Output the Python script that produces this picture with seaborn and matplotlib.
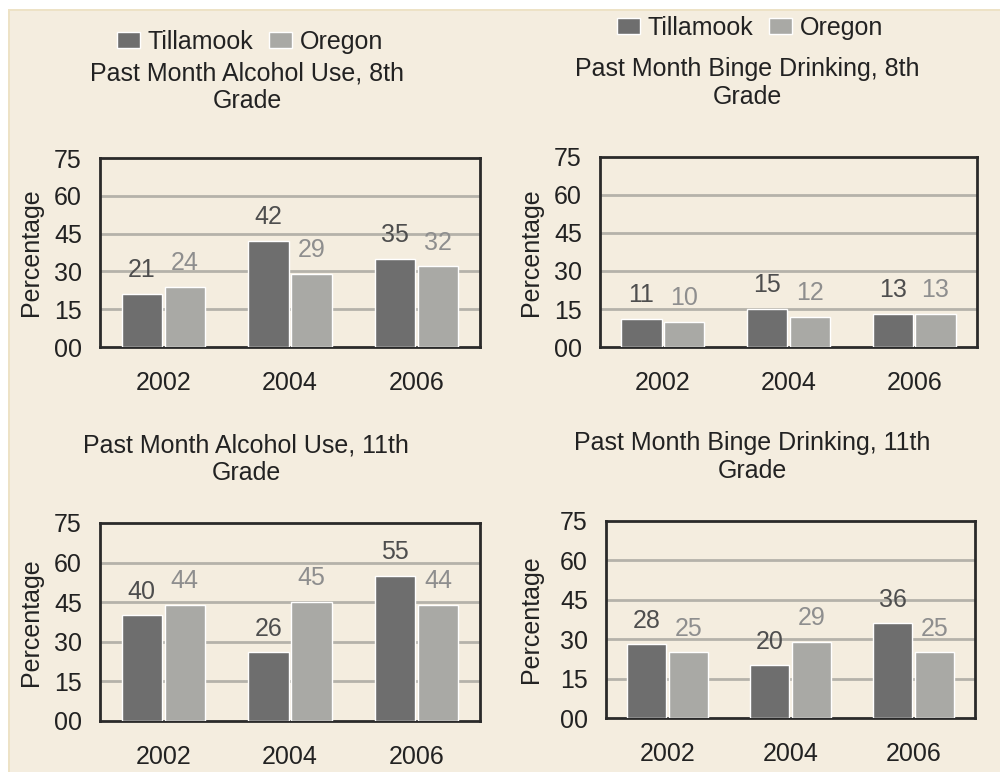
import matplotlib
matplotlib.use("Agg")
import matplotlib.pyplot as plt
from matplotlib.patches import Rectangle
import seaborn as sns
import pandas as pd

years = ["2002", "2004", "2006"]
regions = ["Tillamook", "Oregon"]
ytick_labels = ["00", "15", "30", "45", "60", "75"]

titles = [
    "Past Month Alcohol Use, 8th\nGrade",
    "Past Month Binge Drinking, 8th\nGrade",
    "Past Month Alcohol Use, 11th\nGrade",
    "Past Month Binge Drinking, 11th\nGrade",
]
tillamook_alc8 = [21, 42, 35]
oregon_alc8 = [24, 29, 32]
tillamook_binge8 = [11, 15, 13]
oregon_binge8 = [10, 12, 13]
tillamook_alc11 = [40, 26, 55]
oregon_alc11 = [44, 45, 44]
tillamook_binge11 = [28, 20, 36]
oregon_binge11 = [25, 29, 25]

panels = [
    (tillamook_alc8, oregon_alc8),
    (tillamook_binge8, oregon_binge8),
    (tillamook_alc11, oregon_alc11),
    (tillamook_binge11, oregon_binge11),
]

BG = "#F4EDDF"
DARK = "#6E6E6E"
LIGHT = "#A9A9A5"
palette = {"Tillamook": DARK, "Oregon": LIGHT}
label_colors = {"Tillamook": "#4E4E4E", "Oregon": "#8E8E8E"}

sns.set_theme(style="white")
plt.rcParams["font.family"] = ["Liberation Sans", "DejaVu Sans"]

W, H = 1000, 772
fig = plt.figure(figsize=(10, 7.72), dpi=100, facecolor=BG)

# white margin at top/left like the reference
fig.patches.append(Rectangle((0, 1 - 9 / H), 1, 9 / H, transform=fig.transFigure,
                             facecolor="white", edgecolor="none", zorder=0))
fig.patches.append(Rectangle((0, 0), 8 / W, 1, transform=fig.transFigure,
                             facecolor="white", edgecolor="none", zorder=0))
fig.patches.append(Rectangle((8 / W, 0), 2 / W, 1 - 9 / H, transform=fig.transFigure,
                             facecolor="#EDE2C6", edgecolor="none", zorder=0))
fig.patches.append(Rectangle((8 / W, 1 - 11 / H), 1, 2 / H, transform=fig.transFigure,
                             facecolor="#EDE2C6", edgecolor="none", zorder=0))

# axes boxes in pixels: left, top, right, bottom
boxes = [
    (100, 158, 480, 347),
    (600, 157, 977, 347),
    (100, 523, 480, 721),
    (606, 521, 975, 718),
]
ylabel_offset = [57, 57, 57, 63]
title_pos = [(247, 87), (747, 83), (246, 459), (752, 457)]
legend_pos = [(250, 42), (750, 28)]

FS = 18

for i, ((til, ore), box, title) in enumerate(zip(panels, boxes, titles)):
    l, t, r, b = box
    ax = fig.add_axes([l / W, 1 - b / H, (r - l) / W, (b - t) / H])
    ax.set_facecolor(BG)
    df = pd.DataFrame({
        "Year": years * 2,
        "Region": ["Tillamook"] * 3 + ["Oregon"] * 3,
        "Value": til + ore,
    })
    sns.barplot(data=df, x="Year", y="Value", hue="Region", order=years,
                hue_order=regions, palette=palette, width=0.68, gap=0.06,
                saturation=1, ax=ax, legend=False, zorder=3)
    ax.set_xlim(-0.5, 2.5)
    ax.set_ylim(0, 75)
    ax.set_yticks([0, 15, 30, 45, 60, 75])
    ax.set_yticklabels(ytick_labels, fontsize=FS, color="#222222")
    ax.tick_params(axis="y", length=0, pad=13)
    ax.tick_params(axis="x", length=0, pad=17, labelsize=FS, labelcolor="#222222")
    ax.set_xlabel("")
    ax.set_ylabel("Percentage", fontsize=FS, color="#222222")
    ax.yaxis.set_label_coords(-ylabel_offset[i] / (r - l), 0.5)
    for y in [15, 30, 45, 60]:
        ax.axhline(y, color="#B5B2AA", lw=2, zorder=1)
    for s in ax.spines.values():
        s.set_visible(True)
        s.set_color("#2A2A2A")
        s.set_linewidth(2)
    for cont, reg in zip(ax.containers, regions):
        ax.bar_label(cont, labels=[str(v) for v in (til if reg == "Tillamook" else ore)],
                     padding=8.5, fontsize=FS, color=label_colors[reg])
    tx, ty = title_pos[i]
    fig.text(tx / W, 1 - ty / H, title, ha="center", va="center",
             fontsize=FS, color="#222222", linespacing=1.2)
    if i < 2:
        lx, ly = legend_pos[i]
        handles = [Rectangle((0, 0), 1, 1, facecolor=palette[rg]) for rg in regions]
        fig.legend(handles, regions, loc="center", bbox_to_anchor=(lx / W, 1 - ly / H),
                   ncol=2, frameon=False, fontsize=FS, handlelength=0.92,
                   handleheight=0.62, handletextpad=0.3, columnspacing=0.64,
                   labelcolor="#222222")

fig.savefig("out.png", dpi=100, facecolor=BG)
